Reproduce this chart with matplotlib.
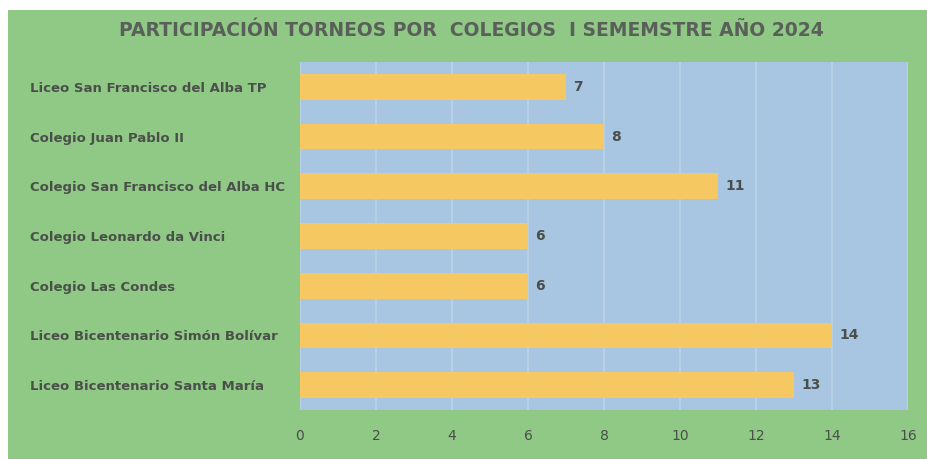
import matplotlib.pyplot as plt
from matplotlib.patches import Rectangle

# Data (top to bottom as in the chart)
colegios = [
    "Liceo San Francisco del Alba TP",
    "Colegio Juan Pablo II",
    "Colegio San Francisco del Alba HC",
    "Colegio Leonardo da Vinci",
    "Colegio Las Condes",
    "Liceo Bicentenario Simón Bolívar",
    "Liceo Bicentenario Santa María",
]
participaciones = [7, 8, 11, 6, 6, 14, 13]
x_ticks = [0, 2, 4, 6, 8, 10, 12, 14, 16]

green = "#8fc985"
blue = "#a8c6e2"
yellow = "#f5c862"
text_col = "#4a4f4a"

fig = plt.figure(figsize=(9.28, 4.59), dpi=100)
fig.patch.set_facecolor("white")
# green chart background with small white margin top/left
fig.patches.append(Rectangle((8 / 928, 0), 1, 1 - 10 / 459,
                             transform=fig.transFigure, facecolor=green,
                             edgecolor="none", zorder=-5))

ax = fig.add_axes([300 / 928, 1 - 410 / 459, 608 / 928, 348 / 459])
ax.set_zorder(2)
ax.set_facecolor(blue)

pos = list(range(len(colegios)))
ax.barh(pos, participaciones, height=0.52, color=yellow, zorder=3)
for p, v in zip(pos, participaciones):
    ax.text(v + 0.2, p, str(v), va="center", ha="left", fontsize=10,
            fontweight="bold", color=text_col, zorder=4)

ax.set_xlim(0, 16)
ax.set_ylim(len(colegios) - 0.5, -0.5)
ax.set_xticks(x_ticks)
ax.set_xticklabels([str(t) for t in x_ticks], color=text_col, fontsize=10)
ax.set_yticks(pos)
ax.set_yticklabels(colegios, color=text_col, fontsize=9.5, fontweight="bold",
                   ha="left")
ax.tick_params(length=0)
ax.tick_params(axis="x", pad=14)
ax.tick_params(axis="y", pad=270 * 72 / 100)
ax.xaxis.grid(True, color="#bcd3e8", linewidth=1.2, zorder=1)
for s in ax.spines.values():
    s.set_visible(False)

fig.text(471 / 928, 1 - 30 / 459, "PARTICIPACIÓN TORNEOS POR  COLEGIOS  I SEMEMSTRE AÑO 2024",
         ha="center", va="center", fontsize=13.5, fontweight="bold",
         color="#5a5f5a")

fig.savefig("out.png", dpi=100)
